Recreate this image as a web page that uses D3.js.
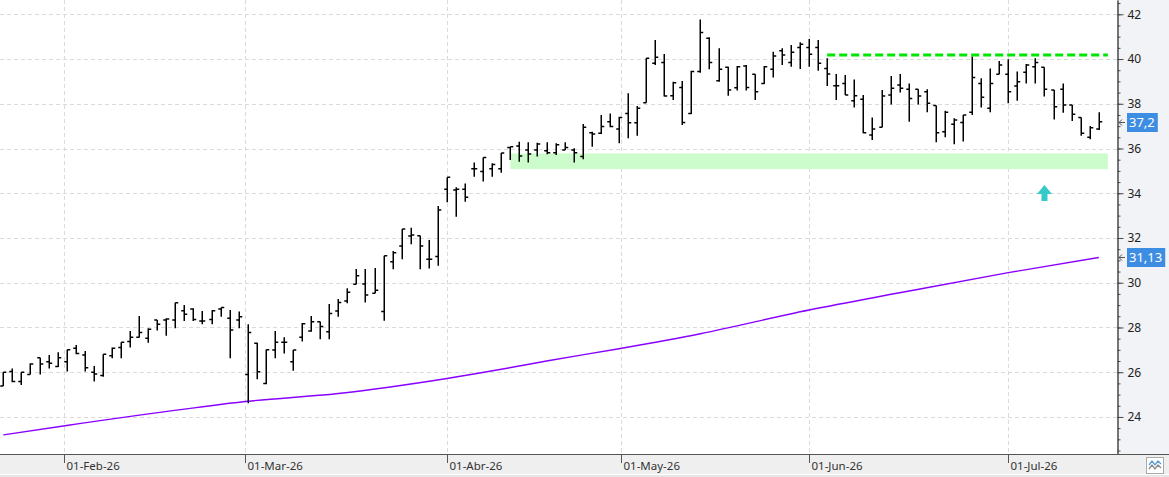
<!DOCTYPE html>
<html>
<head>
<meta charset="utf-8">
<script src="https://cdn.jsdelivr.net/npm/d3@7"></script>
<style>
  body { margin: 0; background: #fff; }
  svg { display: block; font-family: 'Noto Sans', sans-serif; }
</style>
</head>
<body>
<svg id="chart" width="1169" height="477"></svg>
<script>

//trading calendar
var firstDay = '2026-01-22', lastDay = '2026-07-15';
var holidays = ['2026-04-03', '2026-04-06', '2026-05-01'];

//daily prices, one value per session
var opens = [25.38,26.03,25.58,25.9,26.65,26.47,26.25,26.47,27.07,26.77,26,25.85,26.74,27.1,27.37,27.56,27.52,28.33,28.33,28.33,
	28.75,28.83,28.29,28.36,28.83,28.41,28.33,25.9,27.29,25.5,26.99,27.34,26.47,27.56,27.84,28.26,27.81,28.74,29.18,29.93,
	29.94,29.53,28.71,30.94,31.64,32.09,32.1,31.05,31.17,34.18,34.15,34.18,35.1,34.97,35.1,35.1,36.05,36.11,35.93,35.93,
	35.9,35.81,35.93,35.93,35.64,36.71,36.68,37.2,36.87,37.57,37.15,38.05,39.81,39.85,38.36,38.73,37.57,39.44,40.93,39.03,
	39.63,38.72,39.69,39.32,38.91,39.54,40.37,39.85,40.52,40.52,40.52,39.58,38.81,38.91,38.14,38.2,36.6,36.95,38.39,38.84,
	38.65,38.65,38.54,37.92,36.75,37.08,37.16,37.62,38.91,37.8,39.32,39.32,38.79,39.41,39.66,39.63,38.62,38.65,37.95,37.39,
	36.5,36.87];
var highs = [26,26.17,26,26.4,26.65,26.77,26.89,27,27.22,26.95,26.28,26.8,27.1,27.34,27.84,28.51,27.96,28.33,28.41,29.11,
	29,28.86,28.74,28.78,28.89,28.78,28.71,28.14,27.32,27.02,27.84,27.56,26.99,28.2,28.51,28.26,29.05,29.27,29.75,30.61,
	30.61,30.66,31.21,31.42,32.4,32.46,32.1,31.91,33.43,34.71,34.27,34.44,35.37,35.6,35.34,35.8,36.08,36.3,36.28,36.26,
	36.28,36.23,36.28,36.01,37.1,36.75,37.5,37.57,37.42,38.47,37.9,40.03,40.85,40.23,38.99,39.02,39.48,41.77,40.97,40.48,
	39.66,39.69,39.73,39.32,39.69,40.33,40.48,40.63,40.75,40.9,40.85,40.03,39.33,39.29,39.09,38.39,37.39,38.62,39.24,39.33,
	38.91,38.65,38.65,37.92,37.69,37.35,37.5,40.11,39.14,39.58,39.91,39.99,39.44,39.78,40.03,39.63,38.62,38.91,37.95,37.39,
	37.01,37.62];
var lows = [25.38,25.55,25.43,25.9,25.9,26.17,26.23,26.03,26.8,26.03,25.58,25.8,26.62,26.62,27.11,27.55,27.32,27.86,27.63,27.96,
	28.29,28.29,28.14,28.14,28.48,26.62,27.96,24.61,25.68,25.46,26.62,26.84,26.07,27.37,27.81,27.47,27.47,28.48,29.08,29.93,
	29.12,29.53,28.3,30.6,31.05,31.72,30.6,30.64,30.76,33.6,32.95,33.62,34.74,34.52,34.74,34.92,35.49,35.41,35.38,35.64,
	35.74,35.71,35.93,35.37,35.52,36.08,36.65,36.95,36.23,36.46,36.57,38.05,39.73,38.32,38.17,37.05,37.54,39.39,39.54,38.99,
	38.36,38.59,38.59,38.17,38.88,39.17,39.73,39.66,39.55,39.66,39.48,38.79,38.17,38.39,37.83,36.68,36.38,36.95,37.97,38.5,
	37.2,37.97,37.62,36.28,36.5,36.19,36.31,37.5,37.83,37.62,39.32,38.02,38.14,38.91,38.91,38.32,37.3,37.6,37.23,36.57,
	36.41,36.83];
var closes = [26,25.58,26,26.37,26.37,26.4,26.65,27,26.84,26.2,25.92,26.8,27.07,27.34,27.56,27.78,27.92,28.14,28.38,29.11,
	28.59,28.36,28.29,28.75,28.89,27.89,28.48,27.78,26.02,27,27.34,27.34,26.99,28.17,28.26,28.04,28.63,29.12,29.57,30.31,
	29.45,29.66,31.21,31.34,32.4,32.13,31.64,31.05,33.25,34.71,34.18,33.82,35.1,35.6,35.29,35.8,36.08,35.67,35.76,36.2,
	35.81,36.17,36.04,35.81,36.95,36.65,36.98,36.98,37.39,37.15,37.8,40.03,40.08,38.35,38.94,37.16,39.44,41.19,39.85,39.54,
	38.62,39.66,38.73,38.54,39.66,40.14,40.18,40.3,40.66,40.21,39.81,39.33,38.81,38.39,38.36,36.71,36.87,38.35,38.69,38.69,
	38.24,38.35,38.02,36.71,37.62,37.27,37.5,39.18,38.29,38.91,39.73,38.54,38.99,39.73,39.85,38.65,37.87,37.95,37.53,36.68,
	36.93,37.2];

//moving average, read at a few sessions
var maIndex = [0, 7, 20, 27, 37, 49, 55, 60, 68, 77, 89, 99, 111, 121];
var maValues = [23.2, 23.62, 24.35, 24.7, 25.05, 25.72, 26.13, 26.5, 27.05, 27.72, 28.78, 29.55, 30.45, 31.13];

//annotations
var zone = {from: 56, to: 122, low: 35.08, high: 35.78};
var resistance = {from: 91, to: 122, value: 40.18};
var arrowAt = {index: 115, value: 34.37};

//axis labels
var monthDates = ['2026-02-01', '2026-03-01', '2026-04-01', '2026-05-01', '2026-06-01', '2026-07-01'];
var monthLabels = ['01-Feb-26', '01-Mar-26', '01-Abr-26', '01-May-26', '01-Jun-26', '01-Jul-26'];
var priceTicks = d3.range(24, 43, 2);

var parse = d3.utcParse('%Y-%m-%d');
var fmt = d3.utcFormat('%Y-%m-%d');
var days = d3.utcDays(parse(firstDay), d3.utcDay.offset(parse(lastDay), 1))
	.filter(function(d){ return d.getUTCDay() % 6 !== 0 && holidays.indexOf(fmt(d)) < 0; });

var plotRight = 1117, plotBottom = 454;

var x = d3.scaleLinear().domain([0, days.length - 1]).range([3.3, 1098.8]);
var y = d3.scaleLinear().domain([22.344, 42.639]).range([plotBottom, 0]);

//month boundaries sit between sessions, in proportion to calendar time
function monthPos(s){
	var d = parse(s);
	var i = d3.bisector(function(t){ return t; }).right(days, d) - 1;
	if (+days[i] === +d) return i;
	return i + (d - days[i]) / (days[i + 1] - days[i]);
}

var svg = d3.select('#chart');

svg.append('rect').attr('width', 1169).attr('height', 477).attr('fill', '#fff');
svg.append('rect').attr('x', plotRight).attr('width', 1169 - plotRight).attr('height', plotBottom).attr('fill', '#f1f3f6');
svg.append('rect').attr('y', plotBottom).attr('width', 1169).attr('height', 20).attr('fill', '#efefef');
svg.append('rect').attr('y', 475).attr('width', 1169).attr('height', 2).attr('fill', '#e6e6e6');

//grid
var grid = svg.append('g').attr('stroke', '#dadada').attr('stroke-dasharray', '4,3');

grid.selectAll('.hgrid').data(priceTicks).enter()
	.append('line')
	.attr('x1', 0).attr('x2', plotRight)
	.attr('y1', function(d){ return Math.round(y(d)) + 0.5; })
	.attr('y2', function(d){ return Math.round(y(d)) + 0.5; });

grid.selectAll('.vgrid').data(monthDates).enter()
	.append('line')
	.attr('y1', 0).attr('y2', plotBottom)
	.attr('x1', function(d){ return Math.round(x(monthPos(d))) + 0.5; })
	.attr('x2', function(d){ return Math.round(x(monthPos(d))) + 0.5; });

//support zone
svg.append('rect')
	.attr('x', x(zone.from))
	.attr('width', x(zone.to) - x(zone.from))
	.attr('y', y(zone.high))
	.attr('height', y(zone.low) - y(zone.high))
	.attr('fill', '#ccfccc');

//moving average
var maLine = d3.line()
	.curve(d3.curveMonotoneX)
	.x(function(d){ return x(d[0]); })
	.y(function(d){ return y(d[1]); });

svg.append('path')
	.datum(d3.zip(maIndex, maValues))
	.attr('d', maLine)
	.attr('fill', 'none')
	.attr('stroke', '#8a00ff')
	.attr('stroke-width', 1.4);

//ohlc bars
var bars = svg.append('g').attr('stroke', '#000').attr('stroke-width', 1.5).attr('fill', 'none');

bars.selectAll('path').data(days).enter()
	.append('path')
	.attr('d', function(d, i){
		var bx = Math.round(x(i)) + 0.25;
		return 'M' + bx + ',' + y(highs[i]) + 'V' + y(lows[i]) +
			'M' + (bx - 3) + ',' + y(opens[i]) + 'H' + bx +
			'M' + bx + ',' + y(closes[i]) + 'H' + (bx + 3);
	});

//resistance
svg.append('line')
	.attr('x1', x(resistance.from)).attr('x2', x(resistance.to))
	.attr('y1', y(resistance.value)).attr('y2', y(resistance.value))
	.attr('stroke', '#00e600')
	.attr('stroke-width', 3)
	.attr('stroke-dasharray', '8,4');

//buy arrow
var ax = x(arrowAt.index), ay = y(arrowAt.value);
svg.append('path')
	.attr('d', 'M' + ax + ',' + ay + 'L' + (ax + 7.5) + ',' + (ay + 9) + 'H' + (ax + 3) + 'V' + (ay + 16) +
		'H' + (ax - 3) + 'V' + (ay + 9) + 'H' + (ax - 7.5) + 'Z')
	.attr('fill', '#36c9c9');

//price axis
var majorAxis = d3.axisRight(y).tickValues(priceTicks).tickSize(6).tickSizeOuter(0).tickPadding(4)
	.tickFormat(d3.format('d'));
var minorAxis = d3.axisRight(y).tickValues(d3.range(22.5, 42.6, 0.5)).tickSize(3).tickSizeOuter(0).tickFormat('');

var yAxis = svg.append('g').attr('transform', 'translate(' + (plotRight + 0.5) + ',0)');
yAxis.call(minorAxis);
yAxis.append('g').call(majorAxis);
yAxis.selectAll('path.domain, line').attr('stroke', '#4a4a4a');
yAxis.selectAll('text').attr('fill', '#222').style('font-size', '12px').style('font-family', 'Noto Sans');

//date axis
svg.append('line')
	.attr('x1', 0).attr('x2', 1169)
	.attr('y1', plotBottom + 0.5).attr('y2', plotBottom + 0.5)
	.attr('stroke', '#555');

var months = svg.append('g').selectAll('g').data(monthDates).enter()
	.append('g')
	.attr('transform', function(d){ return 'translate(' + (Math.round(x(monthPos(d))) + 0.5) + ',' + plotBottom + ')'; });

months.append('line').attr('y2', 9).attr('stroke', '#555');
months.append('text')
	.attr('x', 2).attr('y', 16)
	.style('font-size', '11.5px')
	.attr('fill', '#333')
	.text(function(d, i){ return monthLabels[i]; });

//last value tags
var comma = d3.formatLocale({decimal: ',', thousands: '.', grouping: [3], currency: ['', '€']});
var tags = [closes[closes.length - 1], maValues[maValues.length - 1]];

tags.forEach(function(v){
	var ty = Math.round(y(v));
	svg.append('path')
		.attr('d', 'M' + (plotRight + 8) + ',' + (ty + 0.5) + 'H' + (plotRight + 2) +
			'M' + (plotRight + 5) + ',' + (ty - 2.5) + 'L' + (plotRight + 2) + ',' + (ty + 0.5) + 'L' + (plotRight + 5) + ',' + (ty + 3.5))
		.attr('fill', 'none').attr('stroke', '#555');
	var box = svg.append('rect').attr('x', 1127).attr('y', ty - 9).attr('height', 19).attr('fill', '#3d8de2');
	var t = svg.append('text')
		.attr('x', 1129).attr('y', ty + 5)
		.style('font-size', '13px')
		.attr('fill', '#fff')
		.text(comma.format('~g')(v));
	box.attr('width', t.node().getComputedTextLength() + 5);
});

//corner button
var btn = svg.append('g').attr('transform', 'translate(1146,457)');
btn.append('rect').attr('x', 0.5).attr('y', 0.5).attr('width', 17).attr('height', 16)
	.attr('fill', '#fff').attr('stroke', '#aaa');
btn.append('path').attr('d', 'M3,8L6,4L9,8L12,4L15,7').attr('fill', 'none').attr('stroke', '#5a9bd5').attr('stroke-width', 1.3);
btn.append('path').attr('d', 'M3,12L6,8L9,12L12,8L15,11').attr('fill', 'none').attr('stroke', '#888').attr('stroke-width', 1.3);

</script>
</body>
</html>
